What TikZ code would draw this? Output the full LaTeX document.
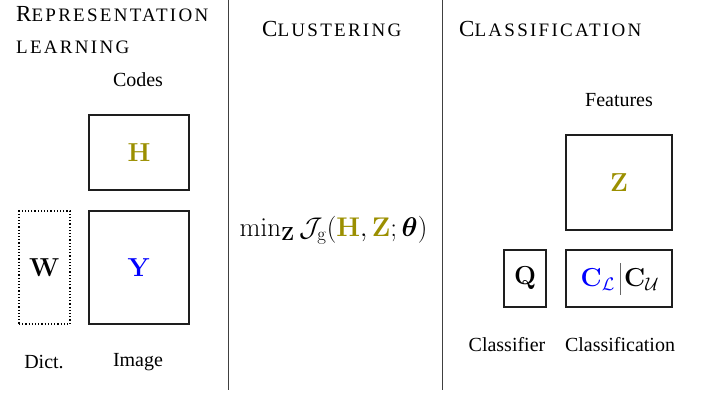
\RequirePackage{fix-cm}
\documentclass[tikz,border=0pt]{standalone}
\usepackage[no-math]{fontspec}
\setmainfont{Liberation Serif}
\newfontfamily\scspaced[LetterSpace=12]{Liberation Serif}
\usepackage{amsmath,bm}
\definecolor{olivec}{RGB}{155,143,0}
\definecolor{frame}{RGB}{30,30,30}
\newcommand\hdcap[1]{{\fontsize{23}{25}\selectfont #1}}
\newcommand\hdsmall[1]{{\scspaced\fontsize{19}{21}\selectfont #1}}
\tikzset{
  lbl/.style={font=\fontsize{20}{22}\selectfont, inner sep=0pt},
  head/.style={inner sep=0pt, anchor=base west},
  mbox/.style={draw=frame, line width=1.1pt, inner sep=0pt},
  dbox/.style={draw=black, line width=1.2pt, dotted, inner sep=0pt},
  sep/.style={draw=black!75, line width=1pt},
  bigm/.style={font=\fontsize{26}{28}\selectfont, inner sep=0pt}
}
\begin{document}
\begin{tikzpicture}[x=1pt,y=-1pt]
\useasboundingbox (0,0) rectangle (704,394);
% separators
\coordinate (s1t) at (228,0);
\coordinate (s1b) at (228,390);
\coordinate (s2t) at (442,0);
\coordinate (s2b) at (442,390);
\draw[sep] (s1t) -- (s1b);
\draw[sep] (s2t) -- (s2b);
% headings
\node[head] (h1a) at (16,21) {\hdcap{R}\hdsmall{EPRESENTATION}};
\node[head] (h1b) at (16,53) {\hdsmall{LEARNING}};
\node[head] (h2) at (262,36.5) {\hdcap{C}\hdsmall{LUSTERING}};
\node[head] (h3) at (459,36) {\hdcap{C}\hdsmall{LASSIFICATION}};
% representation learning
\node[lbl] (codes) at (138,80) {Codes};
\node[mbox, minimum width=100pt, minimum height=75pt] (H) at (139,152.5) {};
\node[bigm] at (H.center) {$\textcolor{olivec}{\mathbf{H}}$};
\node[mbox, minimum width=100pt, minimum height=113pt] (Y) at (139,267.5) {};
\node[bigm] at (Y.center) {$\textcolor{blue}{\mathbf{Y}}$};
\node[dbox, minimum width=51pt, minimum height=113pt] (W) at (44.5,267.5) {};
\node[bigm] at (W.center) {$\mathbf{W}$};
\node[lbl] (dict) at (44,362) {Dict.};
\node[lbl] (image) at (138,362) {Image};
% clustering
\node[inner sep=0pt, font=\fontsize{27}{29}\selectfont] (obj) at (333.5,230)
  {$\min_{\mathbf{Z}} \mathcal{J}_{\mathrm{g}}(\textcolor{olivec}{\mathbf{H}}, \textcolor{olivec}{\mathbf{Z}}; \bm{\theta})$};
% classification
\node[lbl] (feat) at (619,100) {Features};
\node[mbox, minimum width=106pt, minimum height=95pt] (Z) at (619,182.5) {};
\node[bigm] at (Z.center) {$\textcolor{olivec}{\mathbf{Z}}$};
\node[mbox, minimum width=42pt, minimum height=57pt] (Q) at (525,278.5) {};
\node[bigm] at (Q.center) {$\mathbf{Q}$};
\node[mbox, minimum width=106pt, minimum height=57pt] (C) at (619,278.5) {};
\node[bigm, anchor=east] (cl) at (615,280) {$\textcolor{blue}{\mathbf{C}_{\mathcal{L}}}$};
\node[bigm, anchor=west] (cu) at (624,280) {$\mathbf{C}_{\mathcal{U}}$};
\coordinate (vt) at (620,263);
\coordinate (vb) at (620,295);
\draw[black!60, line width=1pt] (vt) -- (vb);
\node[lbl] (clsf) at (507,345) {Classifier};
\node[lbl] (clsn) at (620,345) {Classification};
\end{tikzpicture}
\end{document}
